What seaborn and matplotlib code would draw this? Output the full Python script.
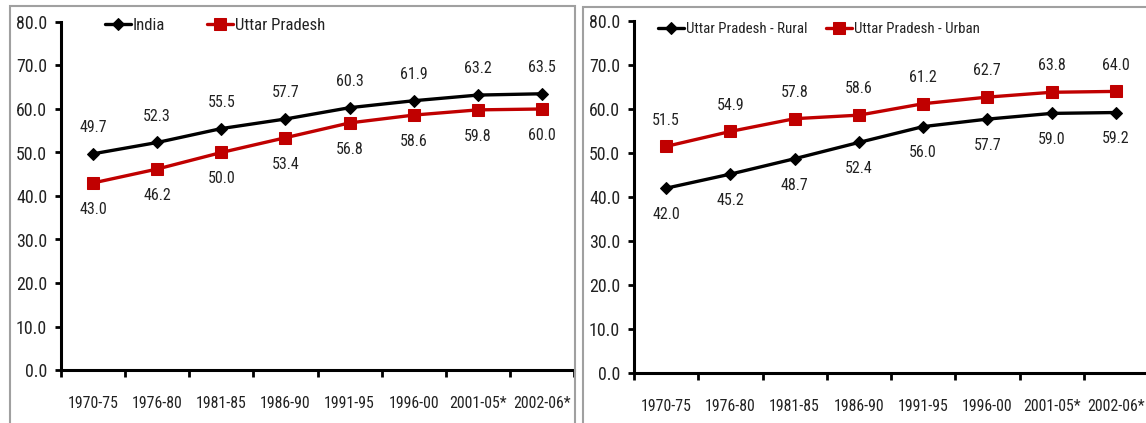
import matplotlib
matplotlib.use("Agg")
import matplotlib.pyplot as plt
from matplotlib import font_manager
from matplotlib.font_manager import FontProperties
from matplotlib.patches import Rectangle
import seaborn as sns
import numpy as np
import pandas as pd

periods = ["1970-75", "1976-80", "1981-85", "1986-90", "1991-95", "1996-00", "2001-05*", "2002-06*"]
india = [49.7, 52.3, 55.5, 57.7, 60.3, 61.9, 63.2, 63.5]
up = [43.0, 46.2, 50.0, 53.4, 56.8, 58.6, 59.8, 60.0]
up_rural = [42.0, 45.2, 48.7, 52.4, 56.0, 57.7, 59.0, 59.2]
up_urban = [51.5, 54.9, 57.8, 58.6, 61.2, 62.7, 63.8, 64.0]
yticks = [0, 10, 20, 30, 40, 50, 60, 70, 80]

sns.set_theme(style="white")
plt.rcParams["font.family"] = ["Liberation Sans", "DejaVu Sans"]


def pick_font():
    best = None
    for f in font_manager.fontManager.ttflist:
        st = f.stretch
        narrow = ("Narrow" in f.name or "Condensed" in f.name or
                  st in ("condensed", "semi-condensed", "extra-condensed", "ultra-condensed") or
                  (isinstance(st, (int, float)) and st < 500))
        if not narrow or f.style != "normal":
            continue
        w = f.weight
        if isinstance(w, str):
            w = {"normal": 400, "regular": 400, "book": 400}.get(w, 700 if "bold" in w else 500)
        if w > 500 or "Serif" in f.name or "Mono" in f.name:
            continue
        score = 0 if ("Liberation" in f.name or "Roboto" in f.name or "Open" in f.name) else 1
        if best is None or score < best[0]:
            best = (score, f.fname)
    if best:
        return FontProperties(fname=best[1])
    return FontProperties(family="Liberation Sans")


fp_base = pick_font()

W, H = 1146, 423
fig = plt.figure(figsize=(W / 100, H / 100), dpi=100)
fig.patch.set_facecolor("white")
renderer = fig.canvas.get_renderer()


def fit(sample, target_px, cap=14.0):
    t = fig.text(0, 0, sample, fontproperties=fp_base, fontsize=12)
    wpx = t.get_window_extent(renderer).width
    t.remove()
    p = fp_base.copy()
    p.set_size(min(cap, 12 * target_px / wpx))
    return p


fp_x = fit("1970-75", 51)
fp_y = fit("80.0", 31)
fp_d = fit("49.7", 28)
fp_l1 = fit("Uttar Pradesh", 90)
fp_l2 = fit("Uttar Pradesh - Rural", 121)

# panel frames
fig.add_artist(Rectangle((10 / W, -0.05), (575 - 10) / W, (H - 6) / H + 0.05,
                         transform=fig.transFigure, fill=False, edgecolor="#a0a0a0", lw=1.5))
fig.add_artist(Rectangle((583 / W, -0.05), 0.6, (H - 7) / H + 0.05,
                         transform=fig.transFigure, fill=False, edgecolor="#a0a0a0", lw=1.5))

RED = "#C00000"
TXT = "#222222"


def panel(rect, black_vals, red_vals, black_name, red_name, black_above, leg_xy, colsp_px, fp_l):
    ax = fig.add_axes(rect)
    x = np.arange(len(periods))
    df = pd.DataFrame({"x": np.concatenate([x, x]),
                       "v": black_vals + red_vals,
                       "s": [black_name] * len(x) + [red_name] * len(x)})
    sns.lineplot(data=df[df.s == black_name], x="x", y="v", ax=ax, color="black", lw=2.4,
                 marker="D", markersize=6, markeredgecolor="black", label=black_name)
    sns.lineplot(data=df[df.s == red_name], x="x", y="v", ax=ax, color=RED, lw=2.4,
                 marker="s", markersize=9, markeredgecolor=RED, label=red_name)
    for xi, v in zip(x, black_vals):
        off = 19 if black_above else -19
        ax.annotate(f"{v:.1f}", (xi, v), xytext=(0, off), textcoords="offset points",
                    ha="center", va="center", fontproperties=fp_d, color=TXT)
    for xi, v in zip(x, red_vals):
        off = -19 if black_above else 19
        ax.annotate(f"{v:.1f}", (xi, v), xytext=(0, off), textcoords="offset points",
                    ha="center", va="center", fontproperties=fp_d, color=TXT)
    ax.set_xlim(-0.5, len(periods) - 0.5)
    ax.set_ylim(0, 80)
    ax.set_yticks(yticks)
    ax.set_yticklabels([f"{t:.1f}" for t in yticks], fontproperties=fp_y, color=TXT)
    ax.set_xticks(np.arange(len(periods) + 1) - 0.5)
    ax.set_xticklabels([])
    ax.set_xticks(x, minor=True)
    ax.set_xticklabels(periods, minor=True, fontproperties=fp_x, color=TXT)
    ax.tick_params(axis="x", which="major", direction="out", length=5, width=2, color="black", bottom=True)
    ax.tick_params(axis="x", which="minor", length=0, pad=19, bottom=True)
    ax.tick_params(axis="y", direction="out", length=4, width=2, color="black", pad=6, left=True)
    ax.set_xlabel("")
    ax.set_ylabel("")
    for s in ["top", "right"]:
        ax.spines[s].set_visible(False)
    for s in ["left", "bottom"]:
        ax.spines[s].set_color("black")
        ax.spines[s].set_linewidth(2.2)
    ax.set_facecolor("none")
    ax.grid(False)
    fs_px = fp_l.get_size() * 100 / 72
    leg = ax.legend(loc="center left", bbox_to_anchor=(leg_xy[0] / W, 1 - leg_xy[1] / H),
                    bbox_transform=fig.transFigure, ncol=2, frameon=False,
                    prop=fp_l, handlelength=26 / fs_px, handletextpad=2 / fs_px,
                    columnspacing=colsp_px / fs_px, borderaxespad=0, borderpad=0)
    for t in leg.get_texts():
        t.set_color(TXT)
    return ax


panel([61 / W, 53 / H, (574 - 61) / W, (370 - 22) / H], india, up, "India", "Uttar Pradesh",
      True, (105, 25), 42, fp_l1)
panel([634 / W, 50 / H, (1148 - 634) / W, (373 - 21) / H], up_rural, up_urban,
      "Uttar Pradesh - Rural", "Uttar Pradesh - Urban", False, (658, 29), 18, fp_l2)

fig.savefig("out.png", dpi=100)
